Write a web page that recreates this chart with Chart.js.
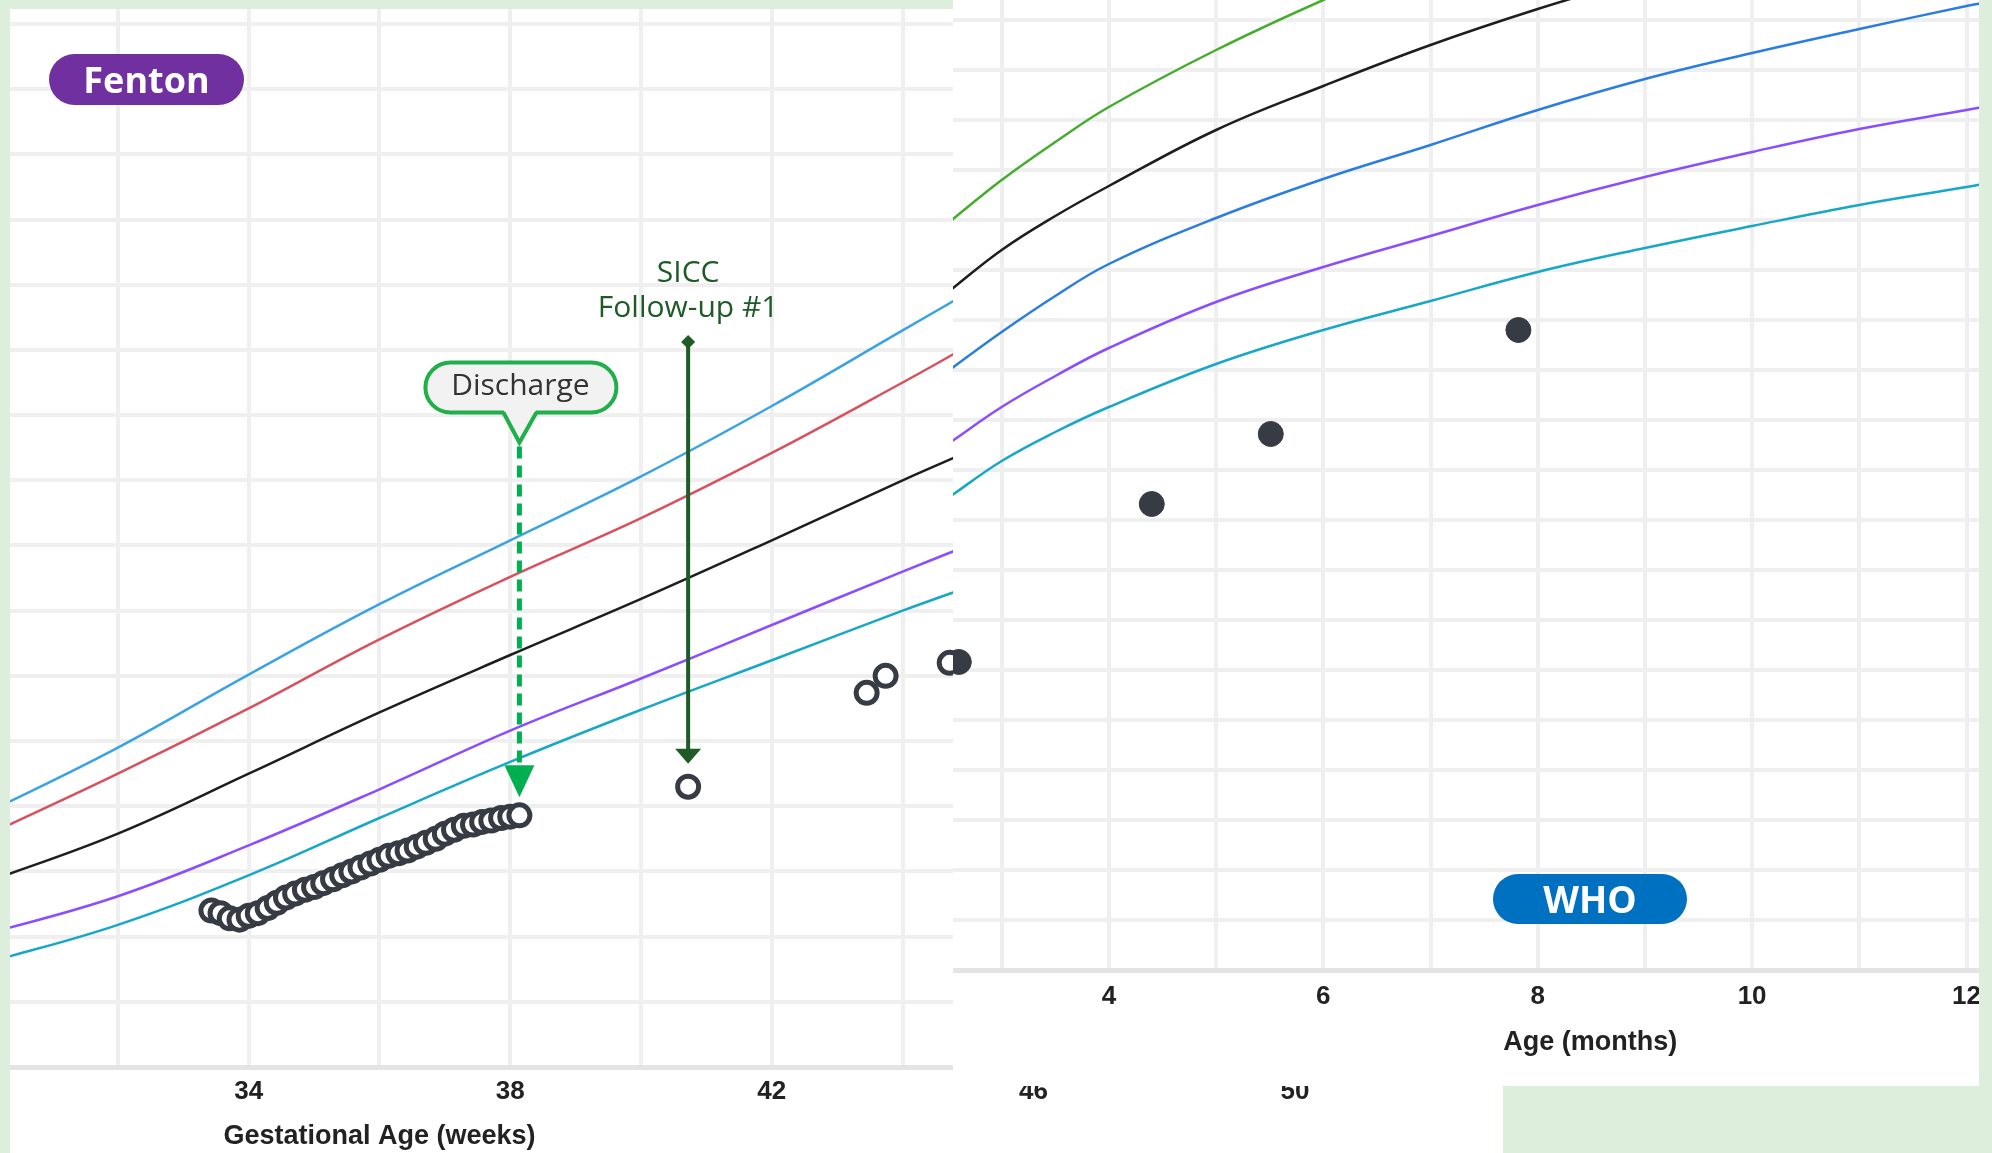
<!DOCTYPE html>
<html>
<head>
<meta charset="utf-8">
<title>Fenton / WHO growth</title>
<script src="https://cdn.jsdelivr.net/npm/chart.js"></script>
<style>
body{margin:0;width:1992px;height:1153px;overflow:hidden;background:#ddeedd;position:relative;font-family:"Open Sans",sans-serif}
.panel{position:absolute;background:#fff}
#fentonWrap{left:10px;top:9px;width:1570px;height:1144px}
#whoWrap{left:953px;top:0;width:1039px;height:1086px}
.green{position:absolute;background:#ddeedd}
.badge{position:absolute;color:#fff;font-weight:700;text-align:center}
#fentonBadge{left:49px;top:54px;width:195px;height:51px;line-height:51px;font-size:36px;border-radius:26px;background:#7030a0}
#whoBadge{left:1493px;top:874px;width:194px;height:50px;line-height:50px;font-size:37px;border-radius:25px;background:#0070c0}
</style>
</head>
<body>
<div class="panel" id="fentonWrap"><canvas id="fenton"></canvas></div>
<div class="panel" id="whoWrap"><canvas id="who"></canvas></div>
<div class="green" style="left:1979px;top:0;width:13px;height:1086px"></div>
<div class="green" style="left:1503px;top:1086px;width:489px;height:67px"></div>
<div class="badge" id="fentonBadge">Fenton</div>
<div class="badge" id="whoBadge">WHO</div>
<script>
// Fenton reference curves (weeks, kg)
const fentonWeeks=[30,32,34,36,38,40,42,44,45];
const fentonBlue  =[1.95,2.45,3.01,3.55,4.04,4.53,5.07,5.65,5.94];
const fentonRed   =[1.78,2.25,2.75,3.28,3.76,4.21,4.71,5.25,5.53];
const fentonBlack =[1.42,1.79,2.25,2.72,3.16,3.59,4.04,4.50,4.72];
const fentonPurple=[1.02,1.31,1.70,2.13,2.58,2.98,3.39,3.80,4.00];
const fentonCyan  =[0.80,1.09,1.47,1.91,2.34,2.74,3.12,3.50,3.68];

// patient measurements on Fenton (gestational age in weeks, kg)
const patientWeeks=[33.43,33.57,33.71,33.86,34.00,34.14,34.29,34.43,34.57,34.71,34.86,35.00,35.14,35.29,35.43,35.57,35.71,35.86,36.00,36.14,36.29,36.43,36.57,36.71,36.86,37.00,37.14,37.29,37.43,37.57,37.71,37.86,38.00,38.14,40.72,43.45,43.74,44.72];
const patientKg=[1.20,1.18,1.14,1.13,1.16,1.18,1.22,1.26,1.30,1.33,1.36,1.38,1.41,1.44,1.47,1.50,1.53,1.56,1.59,1.62,1.64,1.66,1.69,1.72,1.75,1.79,1.82,1.85,1.86,1.88,1.89,1.91,1.92,1.93,2.15,2.87,3.00,3.10];

// WHO reference curves (months, kg)
const whoMonths =[2.5,3,3.5,4,5,6,7,8,9,10,11,12,12.2];
const whoGreen  =[7.47,7.90,8.28,8.63,9.20,9.70,10.15];
const whoBlack  =[6.78,7.20,7.54,7.84,8.40,8.84,9.25,9.61,9.93];
const whoBlue   =[5.99,6.38,6.74,7.06,7.52,7.91,8.25,8.60,8.91,9.17,9.41,9.64,9.68];
const whoPurple =[5.26,5.63,5.94,6.22,6.68,7.03,7.34,7.65,7.93,8.18,8.41,8.60,8.64];
const whoCyan   =[4.72,5.09,5.38,5.63,6.06,6.40,6.69,6.98,7.22,7.44,7.65,7.83,7.87];

// patient measurements on WHO (months, kg)
const whoPtMonths=[2.60,4.40,5.51,7.82];
const whoPtKg=[3.08,4.66,5.36,6.40];

// where the axis titles sit along each x axis
const fentonTitleAt=36;
const whoTitleAt=8.49;

const DOT='#373c44';
const tickFont={family:'Liberation Sans',size:26,weight:'bold'};
const pts=(xs,ys)=>ys.map((v,i)=>({x:xs[i],y:v}));
const curve=(xs,ys,color)=>({data:pts(xs,ys),showLine:true,borderColor:color,borderWidth:2.5,pointRadius:0,tension:0.4});
// regular ticks inside [min,max] only
const evenTicks=step=>s=>{
  const out=[];
  for(let v=Math.ceil(s.min/step-1e-9)*step;v<=s.max+1e-9;v+=step) out.push({value:+v.toFixed(4)});
  s.ticks=out;
};
const axisTitle=(text,at,fromBottom)=>({
  id:'axisTitle',
  afterDraw(chart){
    const {ctx,scales:{x}}=chart;
    ctx.save();
    ctx.font='bold 27px "Liberation Sans"';ctx.fillStyle='#222';
    ctx.textAlign='center';ctx.textBaseline='middle';
    ctx.fillText(text,x.getPixelForValue(at),chart.height-fromBottom);
    ctx.restore();
  }
});

const notes={
  id:'notes',
  afterDatasetsDraw(chart){
    const {ctx,scales:{x,y}}=chart;
    ctx.save();
    // Discharge
    const dx=x.getPixelForValue(38.14), dp=y.getPixelForValue(1.93);
    const bb=y.getPixelForValue(5.02);
    const tip=bb+30;
    ctx.setLineDash([12,7]);
    ctx.strokeStyle='#00b050';ctx.lineWidth=5;
    ctx.beginPath();ctx.moveTo(dx,tip+4);ctx.lineTo(dx,dp-48);ctx.stroke();
    ctx.setLineDash([]);
    ctx.fillStyle='#00b050';
    ctx.beginPath();ctx.moveTo(dx-15,dp-50);ctx.lineTo(dx+15,dp-50);ctx.lineTo(dx,dp-18);ctx.closePath();ctx.fill();
    ctx.fillStyle='#f2f2f2';ctx.strokeStyle='#1fb04a';ctx.lineWidth=4;
    ctx.beginPath();ctx.roundRect(dx-94,bb-50,191,50,25);ctx.fill();ctx.stroke();
    ctx.beginPath();ctx.moveTo(dx-16,bb-3);ctx.lineTo(dx+17,bb-3);ctx.lineTo(dx,tip);ctx.closePath();ctx.fill();
    ctx.beginPath();ctx.moveTo(dx-16,bb);ctx.lineTo(dx,tip);ctx.lineTo(dx+17,bb);ctx.stroke();
    ctx.fillStyle='#333';ctx.font='30px "Open Sans"';ctx.textAlign='center';ctx.textBaseline='middle';
    ctx.fillText('Discharge',dx+1,bb-26);
    // SICC follow-up
    const sx=x.getPixelForValue(40.72), sp=y.getPixelForValue(2.15);
    const top=y.getPixelForValue(5.56);
    const stip=sp-23;
    ctx.strokeStyle='#1e5b27';ctx.fillStyle='#1e5b27';ctx.lineWidth=4;
    ctx.beginPath();ctx.moveTo(sx,top);ctx.lineTo(sx,stip-12);ctx.stroke();
    ctx.beginPath();ctx.moveTo(sx-13,stip-15);ctx.lineTo(sx+13,stip-15);ctx.lineTo(sx,stip);ctx.closePath();ctx.fill();
    ctx.beginPath();ctx.moveTo(sx,top-7);ctx.lineTo(sx+7,top);ctx.lineTo(sx,top+7);ctx.lineTo(sx-7,top);ctx.closePath();ctx.fill();
    ctx.font='30px "Open Sans"';
    ctx.fillText('SICC',sx,top-69);
    ctx.fillText('Follow-up #1',sx,top-34);
    ctx.restore();
  }
};

new Chart(document.getElementById('fenton'),{
  type:'scatter',
  data:{datasets:[
    curve(fentonWeeks,fentonBlue,'#3aa3e6'),
    curve(fentonWeeks,fentonRed,'#d9505e'),
    curve(fentonWeeks,fentonBlack,'#1e1e1e'),
    curve(fentonWeeks,fentonPurple,'#8a4dff'),
    curve(fentonWeeks,fentonCyan,'#17a8c6'),
    {data:pts(patientWeeks,patientKg),showLine:false,pointRadius:10.5,pointBorderWidth:5,pointBorderColor:DOT,pointBackgroundColor:'#fff'}
  ]},
  options:{
    responsive:true,maintainAspectRatio:false,animation:false,events:[],
    layout:{padding:0,autoPadding:false},
    plugins:{legend:{display:false},tooltip:{enabled:false}},
    scales:{
      x:{type:'linear',min:30.35,max:54.32,
        ticks:{autoSkip:false,maxRotation:0,padding:9,font:tickFont,color:'#222',
          callback:v=>(Math.round(v)%4===2?v:'')},
        grid:{color:'#efefef',lineWidth:4,drawTicks:false},
        border:{color:'#e4e4e4',width:5},
        afterBuildTicks:evenTicks(2),
        afterFit:s=>{s.height=86;}},
      y:{min:0,max:8.115,
        ticks:{display:false},
        grid:{color:'#efefef',lineWidth:4,drawTicks:false},
        border:{display:false},
        afterBuildTicks:evenTicks(0.5),
        afterFit:s=>{s.width=0;}}
    }
  },
  plugins:[notes,axisTitle('Gestational Age (weeks)',fentonTitleAt,16)]
});

new Chart(document.getElementById('who'),{
  type:'scatter',
  data:{datasets:[
    curve(whoMonths,whoGreen,'#45ad2e'),
    curve(whoMonths,whoBlack,'#1e1e1e'),
    curve(whoMonths,whoBlue,'#2a7de1'),
    curve(whoMonths,whoPurple,'#8a4dff'),
    curve(whoMonths,whoCyan,'#17a8c6'),
    {data:pts(whoPtMonths,whoPtKg),showLine:false,pointRadius:12.5,pointBorderWidth:1,pointBorderColor:DOT,pointBackgroundColor:DOT}
  ]},
  options:{
    responsive:true,maintainAspectRatio:false,animation:false,events:[],
    layout:{padding:0,autoPadding:false},
    plugins:{legend:{display:false},tooltip:{enabled:false}},
    scales:{
      x:{type:'linear',min:2.546,max:12.175,
        ticks:{autoSkip:false,maxRotation:0,padding:11,font:tickFont,color:'#222',
          callback:v=>(Math.round(v)%2===0?v:'')},
        grid:{color:'#efefef',lineWidth:4,drawTicks:false},
        border:{color:'#e4e4e4',width:5},
        afterBuildTicks:evenTicks(1),
        afterFit:s=>{s.height=116;}},
      y:{min:0,max:9.70,
        ticks:{display:false},
        grid:{color:'#efefef',lineWidth:4,drawTicks:false},
        border:{display:false},
        afterBuildTicks:evenTicks(0.5),
        afterFit:s=>{s.width=0;}}
    }
  },
  plugins:[axisTitle('Age (months)',whoTitleAt,43)]
});
</script>
</body>
</html>
